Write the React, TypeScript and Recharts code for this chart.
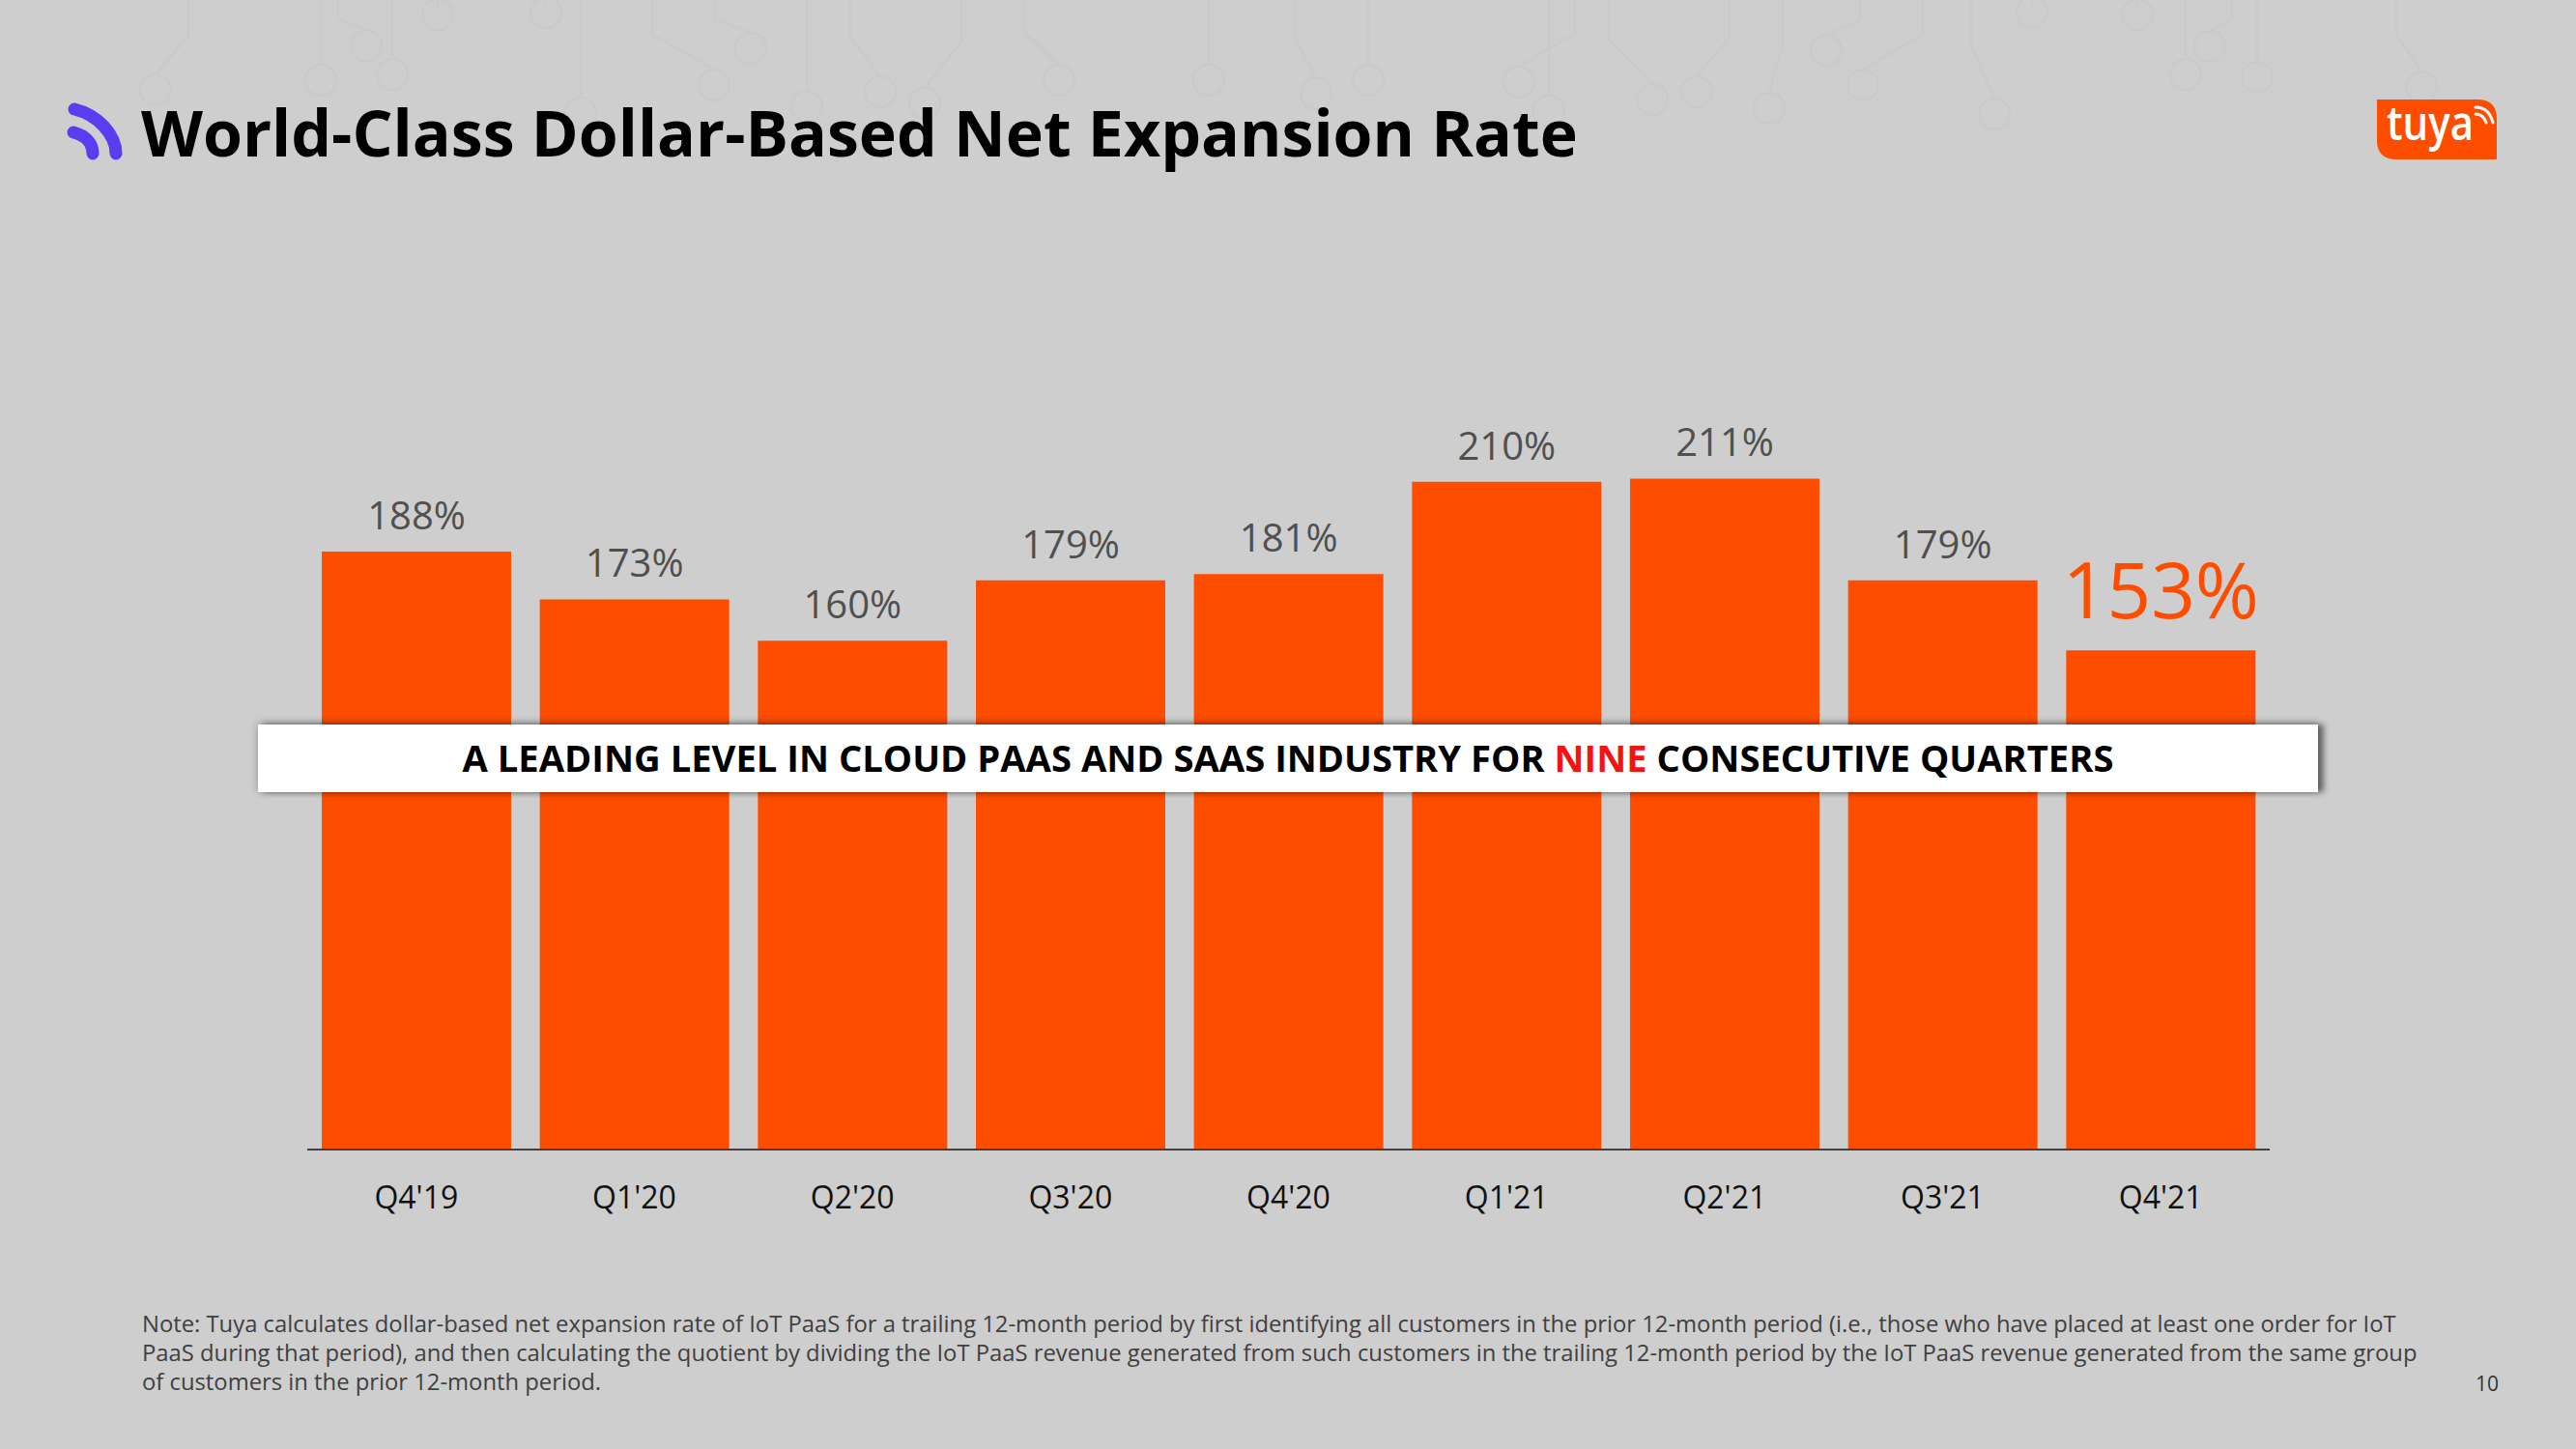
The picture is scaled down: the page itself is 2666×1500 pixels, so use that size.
import { BarChart, Bar, XAxis, YAxis, LabelList } from "recharts"

const quarters = ["Q4'19", "Q1'20", "Q2'20", "Q3'20", "Q4'20", "Q1'21", "Q2'21", "Q3'21", "Q4'21"]
const rateLabels = ["188%", "173%", "160%", "179%", "181%", "210%", "211%", "179%", "153%"]
// bar heights (last bar stands taller than its 153% label)
const barValues = [188, 173, 160, 179, 181, 210, 211, 179, 157]
const noteLines = [
  "Note: Tuya calculates dollar-based net expansion rate of IoT PaaS for a trailing 12-month period by first identifying all customers in the prior 12-month period (i.e., those who have placed at least one order for IoT",
  "PaaS during that period), and then calculating the quotient by dividing the IoT PaaS revenue generated from such customers in the trailing 12-month period by the IoT PaaS revenue generated from the same group",
  "of customers in the prior 12-month period.",
]

// faint circuit decoration behind the title: [ringX, ringY, traceTopX]
const circuitTraces = [
  [161, 93, 195], [332, 83, 332], [406, 77, 406], [379, 47, 350], [453, 15, 453], [565, 13, 565],
  [777, 50, 740], [739, 88, 675], [911, 95, 880], [957, 107, 995], [835, 110, 835], [1096, 83, 1060],
  [1251, 83, 1251], [601, 117, 601], [1416, 83, 1416], [1362, 97, 1340], [1572, 85, 1630], [1710, 103, 1665],
  [1756, 95, 1790], [1831, 112, 1845], [1890, 52, 1925], [1928, 88, 1990], [2064, 118, 2040], [2103, 13, 2103],
  [2212, 15, 2212], [2287, 48, 2310], [2262, 77, 2262], [2336, 80, 2336], [2506, 90, 2480], [1603, 115, 1603],
]

const FONT = "'Open Sans', 'Noto Sans', sans-serif"
const ORANGE = "#ff4d00"

const chartData = quarters.map((quarter, i) => ({ quarter, value: barValues[i], label: rateLabels[i] }))

const RateLabel = (props: any) => {
  const { x, y, width, index } = props
  const isLast = index === rateLabels.length - 1
  return (
    <text
      x={x + width / 2}
      y={y - (isLast ? 33 : 23)}
      textAnchor="middle"
      fontFamily={FONT}
      fontSize={isLast ? 80 : 40}
      fill={isLast ? ORANGE : "#505050"}
    >
      {rateLabels[index]}
    </text>
  )
}

export default function App() {
  return (
    <div style={{ position: "absolute", left: 0, top: 0, width: 2666, height: 1500, background: "#cecece", overflow: "hidden", fontFamily: FONT }}>
      <svg width={2666} height={200} style={{ position: "absolute", left: 0, top: 0 }}>
        {circuitTraces.map(([x, y, topX]) => (
          <g key={`${x}-${y}`} fill="none" stroke="#cacaca" strokeWidth={2}>
            <path d={`M${topX} 0 V${y * 0.4} L${x} ${y - 16}`} />
            <circle cx={x} cy={y} r={16} />
          </g>
        ))}
      </svg>

      <svg width={90} height={90} style={{ position: "absolute", left: 50, top: 90 }}>
        <path d="M27 23 C 52 29, 70 50, 70 69" fill="none" stroke="#5b3df0" strokeWidth={13} strokeLinecap="round" />
        <path d="M26 47 C 38 50, 46 58, 46 69" fill="none" stroke="#5b3df0" strokeWidth={13} strokeLinecap="round" />
      </svg>
      <div style={{ position: "absolute", left: 146, top: 90, fontSize: 66.2, fontWeight: 700, color: "#000", whiteSpace: "nowrap", lineHeight: "92px" }}>
        World-Class Dollar-Based Net Expansion Rate
      </div>

      <svg width={126} height={100} style={{ position: "absolute", left: 2460, top: 83 }}>
        <g transform="translate(0 20)">
          <path d="M0 0 H104 Q124 0 124 20 V62 H20 Q0 62 0 42 Z" fill={ORANGE} />
          <text x={10} y={42} fontFamily={FONT} fontSize={48} fontWeight={600} fill="#fff" textLength={90} lengthAdjust="spacingAndGlyphs">
            tuya
          </text>
          <path d="M102 15 Q110 15 113 24" fill="none" stroke="#fff" strokeWidth={3} strokeLinecap="round" />
          <path d="M102 8 Q116 8 120 24" fill="none" stroke="#fff" strokeWidth={3} strokeLinecap="round" />
        </g>
      </svg>

      <div style={{ position: "absolute", left: 0, top: 0 }}>
        <BarChart
          width={2666}
          height={1500}
          data={chartData}
          barCategoryGap={15}
          margin={{ top: 367, right: 317, bottom: 250, left: 318 }}
        >
          <XAxis
            dataKey="quarter"
            height={60}
            interval={0}
            tickLine={false}
            axisLine={{ stroke: "#404040", strokeWidth: 2 }}
            tick={{ fill: "#111", fontSize: 32, fontFamily: FONT }}
            tickMargin={32}
          />
          <YAxis hide domain={[0, 250]} />
          <Bar dataKey="value" fill={ORANGE} isAnimationActive={false}>
            <LabelList dataKey="label" content={RateLabel} />
          </Bar>
        </BarChart>
      </div>

      <div
        style={{
          position: "absolute",
          left: 267,
          top: 750,
          width: 2132,
          height: 70,
          background: "#fff",
          boxShadow: "6px 0 6px rgba(0,0,0,0.45), 0 -1px 8px rgba(0,0,0,0.3)",
          textAlign: "center",
          lineHeight: "68px",
          fontSize: 38.2,
          fontWeight: 700,
          color: "#000",
          whiteSpace: "nowrap",
        }}
      >
        A LEADING LEVEL IN CLOUD PAAS AND SAAS INDUSTRY FOR <span style={{ color: "#f01414" }}>NINE</span> CONSECUTIVE QUARTERS
      </div>

      <div style={{ position: "absolute", left: 147, top: 1355, fontSize: 23.8, lineHeight: "30px", color: "#404040", whiteSpace: "nowrap" }}>
        {noteLines.map((line) => (
          <div key={line}>{line}</div>
        ))}
      </div>
      <div style={{ position: "absolute", left: 2562, top: 1418, fontSize: 21, color: "#333" }}>10</div>
    </div>
  )
}
